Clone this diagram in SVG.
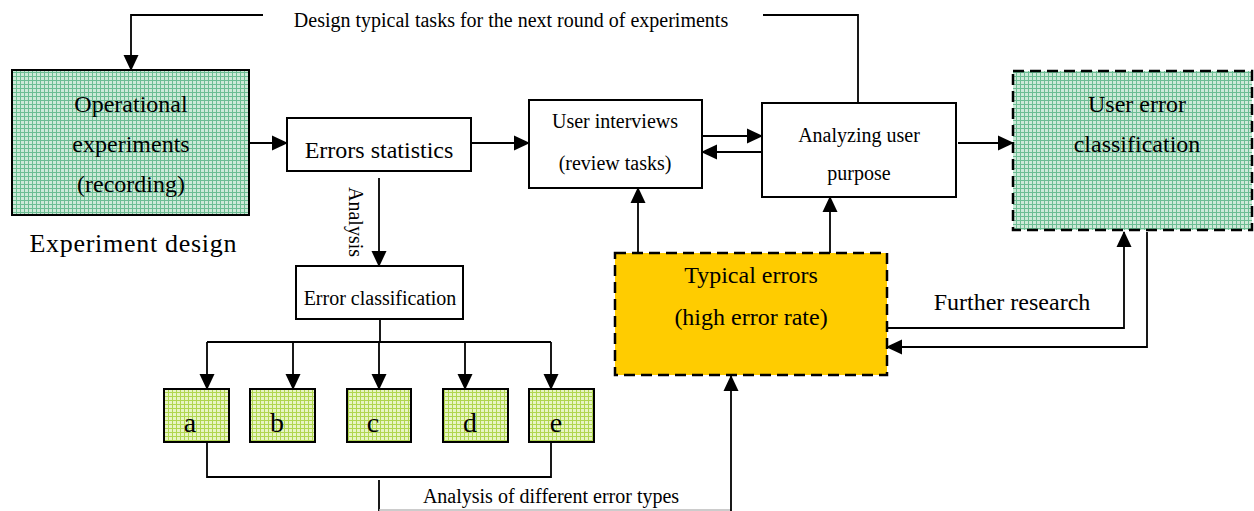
<svg xmlns="http://www.w3.org/2000/svg" width="1254" height="511" viewBox="0 0 1254 511">
  <style>
    .box { stroke: #000; stroke-width: 2; }
    .plain { fill: #fff; }
    .dash { stroke: #000; stroke-width: 2.5; stroke-dasharray: 11 6; }
    .t { font-family: "Liberation Serif", "Times New Roman", serif; fill: #000; text-anchor: middle; }
    .big { font-size: 24px; }
    .mid { font-size: 20px; }
    .let { font-size: 28px; }
    .line { fill: none; stroke: #000; stroke-width: 1.8; }
    .ah { fill: none; stroke: #000; stroke-width: 1.8; marker-end: url(#arrow); }
  </style>
  <defs>
    <marker id="arrow" viewBox="0 0 16 16" refX="15" refY="8" markerWidth="16" markerHeight="16" markerUnits="userSpaceOnUse" orient="auto">
      <path d="M0,0.5 L16,8 L0,15.5 Z" fill="#000"/>
    </marker>
    <pattern id="teal" width="4" height="4" patternUnits="userSpaceOnUse">
      <rect width="4" height="4" fill="#cde9d8"/>
      <path d="M0,0.5 H4 M0.5,0 V4" stroke="#6cbd93" stroke-width="1"/>
    </pattern>
    <pattern id="lime" width="4" height="4" patternUnits="userSpaceOnUse">
      <rect width="4" height="4" fill="#e8f5c4"/>
      <path d="M0,0.5 H4 M0.5,0 V4" stroke="#b0d650" stroke-width="1"/>
    </pattern>
  </defs>

  <!-- connectors -->
  <g id="connectors">
    <!-- feedback loop to experiment design -->
    <polyline class="ah" points="263,15 131,15 131,70"/>
    <polyline class="line" points="763,15 858,15 858,102"/>
    <!-- main flow -->
    <line class="ah" x1="249" y1="143" x2="287" y2="143"/>
    <line class="ah" x1="462" y1="143" x2="529" y2="143"/>
    <line class="ah" x1="702" y1="136" x2="762" y2="136"/>
    <line class="ah" x1="766" y1="152" x2="702" y2="152"/>
    <line class="ah" x1="958" y1="143" x2="1013" y2="143"/>
    <!-- analysis down to classification -->
    <line class="ah" x1="379" y1="178" x2="379" y2="266"/>
    <!-- branch to a..e -->
    <polyline class="line" points="380,319 380,342"/>
    <line class="line" x1="207" y1="342" x2="551" y2="342"/>
    <line class="ah" x1="207" y1="342" x2="207" y2="389"/>
    <line class="ah" x1="293" y1="342" x2="293" y2="389"/>
    <line class="ah" x1="379" y1="342" x2="379" y2="389"/>
    <line class="ah" x1="465" y1="342" x2="465" y2="389"/>
    <line class="ah" x1="551" y1="342" x2="551" y2="389"/>
    <!-- merge of a..e to typical errors -->
    <polyline class="line" points="207,442 207,477 551,477 551,442"/>
    <polyline class="line" points="379,480 379,511"/>
    <line x1="379" y1="510" x2="731" y2="510" stroke="#bbb" stroke-width="1.5"/>
    <polyline class="ah" points="731,511 731,376"/>
    <!-- typical errors up to interviews / purpose -->
    <line class="ah" x1="638" y1="253" x2="638" y2="188"/>
    <line class="ah" x1="830" y1="253" x2="830" y2="197"/>
    <!-- further research loop -->
    <polyline class="ah" points="887,328 1124,328 1124,232"/>
    <polyline class="ah" points="1147,232 1147,347 887,347"/>
  </g>

  <g id="operational-experiments">
    <rect class="box" x="12" y="70" width="237" height="145" fill="url(#teal)"/>
    <text class="t big" x="131" y="112">Operational</text>
    <text class="t big" x="131" y="152">experiments</text>
    <text class="t big" x="131" y="192">(recording)</text>
  </g>

  <g id="experiment-design-label">
    <text class="t" font-size="26" x="133" y="252" textLength="207" lengthAdjust="spacing">Experiment design</text>
  </g>

  <g id="loop-label">
    <text class="t mid" x="511" y="27">Design typical tasks for the next round of experiments</text>
  </g>

  <g id="errors-statistics">
    <rect class="box plain" x="287" y="118" width="184" height="53"/>
    <text class="t big" x="379" y="158">Errors statistics</text>
  </g>

  <g id="analysis-label">
    <text class="t mid" transform="translate(349,222) rotate(90)">Analysis</text>
  </g>

  <g id="user-interviews">
    <rect class="box plain" x="529" y="100" width="173" height="88"/>
    <text class="t mid" x="615" y="128">User interviews</text>
    <text class="t mid" x="615" y="170">(review tasks)</text>
  </g>

  <g id="analyzing-user-purpose">
    <rect class="box plain" x="762" y="103" width="194" height="94"/>
    <text class="t mid" x="859" y="142">Analyzing user</text>
    <text class="t mid" x="859" y="180">purpose</text>
  </g>

  <g id="user-error-classification">
    <rect class="dash" x="1013" y="71" width="239" height="159" fill="url(#teal)"/>
    <text class="t big" x="1137" y="112">User error</text>
    <text class="t big" x="1137" y="152">classification</text>
  </g>

  <g id="error-classification">
    <rect class="box plain" x="296" y="266" width="167" height="53"/>
    <text class="t mid" x="380" y="305">Error classification</text>
  </g>

  <g id="typical-errors">
    <rect class="dash" x="615" y="253" width="272" height="122" fill="#ffcc00"/>
    <text class="t big" x="751" y="283">Typical errors</text>
    <text class="t big" x="751" y="325">(high error rate)</text>
  </g>

  <g id="further-research-label">
    <text class="t big" x="1012" y="310">Further research</text>
  </g>

  <g id="type-a">
    <rect class="box" x="164" y="389" width="65" height="53" fill="url(#lime)"/>
    <text class="t let" x="190" y="432">a</text>
  </g>
  <g id="type-b">
    <rect class="box" x="250" y="389" width="65" height="53" fill="url(#lime)"/>
    <text class="t let" x="277" y="432">b</text>
  </g>
  <g id="type-c">
    <rect class="box" x="347" y="389" width="64" height="53" fill="url(#lime)"/>
    <text class="t let" x="373" y="432">c</text>
  </g>
  <g id="type-d">
    <rect class="box" x="443" y="389" width="65" height="53" fill="url(#lime)"/>
    <text class="t let" x="470" y="432">d</text>
  </g>
  <g id="type-e">
    <rect class="box" x="529" y="389" width="65" height="53" fill="url(#lime)"/>
    <text class="t let" x="556" y="432">e</text>
  </g>

  <g id="analysis-types-label">
    <text class="t mid" x="551" y="503">Analysis of different error types</text>
  </g>
</svg>
